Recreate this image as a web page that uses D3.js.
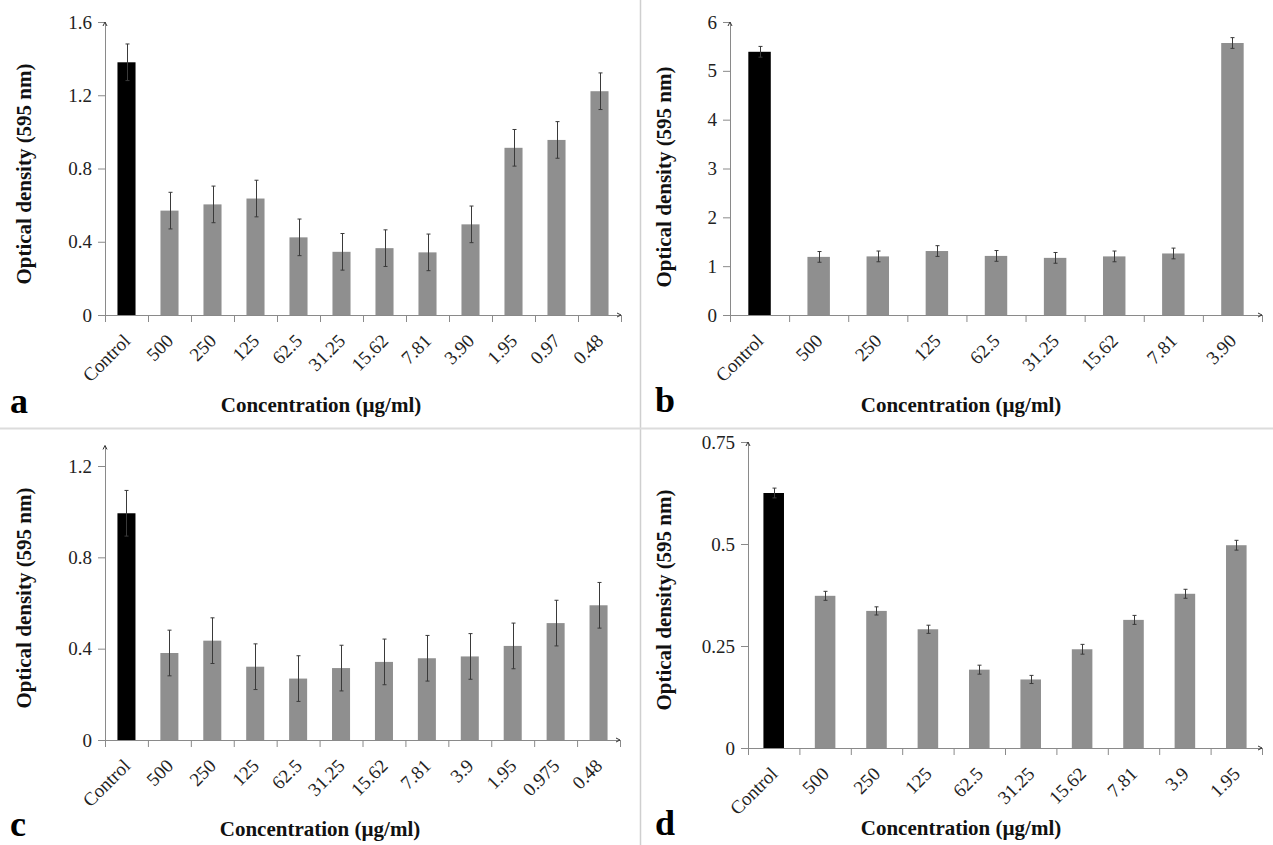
<!DOCTYPE html>
<html>
<head>
<meta charset="utf-8">
<script src="https://cdn.jsdelivr.net/npm/d3@7"></script>
<style>
  html, body { margin: 0; padding: 0; background: #fff; }
  svg { display: block; }
  svg text { font-family: "Liberation Serif", "Times New Roman", "DejaVu Serif", serif; }
</style>
</head>
<body>
<svg id="chart" width="1273" height="845"></svg>
<script>
// ---------- data ----------
const catsA = ["Control","500","250","125","62.5","31.25","15.62","7.81","3.90","1.95","0.97","0.48"];
const valsA = [1.38, 0.57, 0.604, 0.636, 0.424, 0.345, 0.365, 0.342, 0.495, 0.913, 0.956, 1.222];
const errA  = [0.10, 0.10, 0.10, 0.10, 0.10, 0.10, 0.10, 0.10, 0.10, 0.10, 0.10, 0.10];
const ticksA = [0, 0.4, 0.8, 1.2, 1.6];

const catsB = ["Control","500","250","125","62.5","31.25","15.62","7.81","3.90"];
const valsB = [5.39, 1.19, 1.20, 1.31, 1.21, 1.17, 1.20, 1.26, 5.57];
const errB  = [0.11, 0.11, 0.11, 0.11, 0.11, 0.11, 0.11, 0.11, 0.11];
const ticksB = [0, 1, 2, 3, 4, 5, 6];

const catsC = ["Control","500","250","125","62.5","31.25","15.62","7.81","3.9","1.95","0.975","0.48"];
const valsC = [0.993, 0.381, 0.435, 0.321, 0.269, 0.315, 0.342, 0.358, 0.366, 0.412, 0.512, 0.59];
const errC  = [0.10, 0.10, 0.10, 0.10, 0.10, 0.10, 0.10, 0.10, 0.10, 0.10, 0.10, 0.10];
const ticksC = [0, 0.4, 0.8, 1.2];

const catsD = ["Control","500","250","125","62.5","31.25","15.62","7.81","3.9","1.95"];
const valsD = [0.625, 0.373, 0.336, 0.291, 0.192, 0.168, 0.242, 0.314, 0.378, 0.497];
const errD  = [0.012, 0.011, 0.010, 0.010, 0.011, 0.010, 0.012, 0.011, 0.011, 0.012];
const ticksD = [0, 0.25, 0.5, 0.75];

const yTitle = "Optical density (595 nm)";
const xTitle = "Concentration (µg/ml)";

// ---------- layout ----------
const FONT = '"Liberation Serif", "Times New Roman", "DejaVu Serif", serif';
const panels = [
  {letter:"a", cats:catsA, vals:valsA, errs:errA, ticks:ticksA, yMax:1.6,
   x0:105, x1:621, y0:315, yTop:22, pad:0.58, letterX:10, letterY:413, titleCX:321, titleY:412, yTitleX:31, yTitleCY:174},
  {letter:"b", cats:catsB, vals:valsB, errs:errB, ticks:ticksB, yMax:6,
   x0:730, x1:1262, y0:315, yTop:22, pad:0.62, letterX:655, letterY:412, titleCX:961, titleY:412, yTitleX:671, yTitleCY:177},
  {letter:"c", cats:catsC, vals:valsC, errs:errC, ticks:ticksC, yMax:1.2, axisMax:1.29,
   x0:105, x1:620, y0:740, yTop:466, pad:0.58, letterX:10, letterY:836, titleCX:320, titleY:836, yTitleX:31, yTitleCY:598},
  {letter:"d", cats:catsD, vals:valsD, errs:errD, ticks:ticksD, yMax:0.75,
   x0:748, x1:1262, y0:748, yTop:442, pad:0.60, letterX:655, letterY:835, titleCX:961, titleY:835, yTitleX:671, yTitleCY:600}
];

const svg = d3.select("#chart");
const AXIS = "#8a8a8a";
const BAR = "#8f8f8f";

// dividers
svg.append("line").attr("x1",640.5).attr("x2",640.5).attr("y1",0).attr("y2",845)
  .attr("stroke","#cfcfcf").attr("stroke-width",1.5);
svg.append("line").attr("x1",0).attr("x2",1273).attr("y1",428.5).attr("y2",428.5)
  .attr("stroke","#dcdcdc").attr("stroke-width",2);

panels.forEach(p => {
  const g = svg.append("g");
  const y = d3.scaleLinear().domain([0, p.yMax]).range([p.y0, p.yTop]);
  const x = d3.scaleBand().domain(p.cats).range([p.x0, p.x1]).paddingInner(p.pad).paddingOuter(p.pad/2);
  const xl = d3.scaleLinear().domain([0, p.cats.length]).range([p.x0, p.x1]);
  const axisTopVal = p.axisMax || p.yMax;

  // bars
  g.selectAll("rect.bar").data(p.vals).join("rect")
    .attr("x", (d,i) => x(p.cats[i]))
    .attr("width", x.bandwidth())
    .attr("y", d => y(d))
    .attr("height", d => p.y0 - y(d))
    .attr("fill", (d,i) => i === 0 ? "#000" : BAR);

  // error bars
  const eg = g.append("g").attr("stroke","#3a3a3a").attr("stroke-width",1);
  p.vals.forEach((v,i) => {
    const cx = Math.round(x(p.cats[i]) + x.bandwidth()/2) + 0.5;
    const lo = y(v - p.errs[i]), hi = y(v + p.errs[i]);
    eg.append("line").attr("x1",cx).attr("x2",cx).attr("y1",lo).attr("y2",hi);
    eg.append("line").attr("x1",cx-2).attr("x2",cx+2).attr("y1",hi).attr("y2",hi);
    eg.append("line").attr("x1",cx-2).attr("x2",cx+2).attr("y1",lo).attr("y2",lo);
  });

  // y axis
  const yAxisScale = d3.scaleLinear().domain([0, axisTopVal]).range([p.y0, y(axisTopVal)]);
  const ya = g.append("g").attr("transform", `translate(${p.x0},0)`)
    .call(d3.axisLeft(yAxisScale).tickValues(p.ticks).tickFormat(d => String(d)).tickSize(7).tickSizeOuter(0).tickPadding(6));
  ya.attr("font-family", FONT);
  ya.select(".domain").attr("stroke", AXIS);
  ya.selectAll(".tick line").attr("stroke", AXIS);
  ya.selectAll(".tick text").attr("font-size", 19).attr("fill", "#222").attr("font-family", FONT);

  // x axis (ticks at category boundaries)
  const xa = g.append("g").attr("transform", `translate(0,${p.y0})`)
    .call(d3.axisBottom(xl).tickValues(d3.range(p.cats.length + 1)).tickFormat("").tickSize(7).tickSizeOuter(0));
  xa.select(".domain").attr("stroke", AXIS);
  xa.selectAll(".tick line").attr("stroke", AXIS);

  // axis end arrows
  const yTopPx = y(axisTopVal);
  g.append("path").attr("d", `M${p.x0-2},${yTopPx+4} L${p.x0},${yTopPx} L${p.x0+2},${yTopPx+4}`)
    .attr("fill","none").attr("stroke","#333").attr("stroke-width",1);
  g.append("path").attr("d", `M${p.x1-4},${p.y0-2} L${p.x1},${p.y0} L${p.x1-4},${p.y0+2}`)
    .attr("fill","none").attr("stroke","#333").attr("stroke-width",1);

  // x tick labels
  g.selectAll("text.xl").data(p.cats).join("text")
    .attr("class","xl")
    .attr("text-anchor","end")
    .attr("font-family", FONT)
    .attr("font-size", 19)
    .attr("fill", "#222")
    .attr("transform", d => `translate(${x(d) + x.bandwidth()/2 + 5},${p.y0 + 27}) rotate(-45)`)
    .text(d => d);

  // titles
  g.append("text").attr("x", p.titleCX).attr("y", p.titleY).attr("text-anchor","middle")
    .attr("font-family", FONT).attr("font-size", 21).attr("font-weight","bold").attr("fill","#111").text(xTitle);
  g.append("text").attr("transform", `translate(${p.yTitleX},${p.yTitleCY}) rotate(-90)`)
    .attr("text-anchor","middle").attr("font-family", FONT).attr("font-size", 21).attr("font-weight","bold")
    .attr("fill","#111").text(yTitle);
  g.append("text").attr("x", p.letterX).attr("y", p.letterY)
    .attr("font-family", FONT).attr("font-size", 36).attr("font-weight","bold").attr("fill","#000").text(p.letter);
});
</script>
</body>
</html>
